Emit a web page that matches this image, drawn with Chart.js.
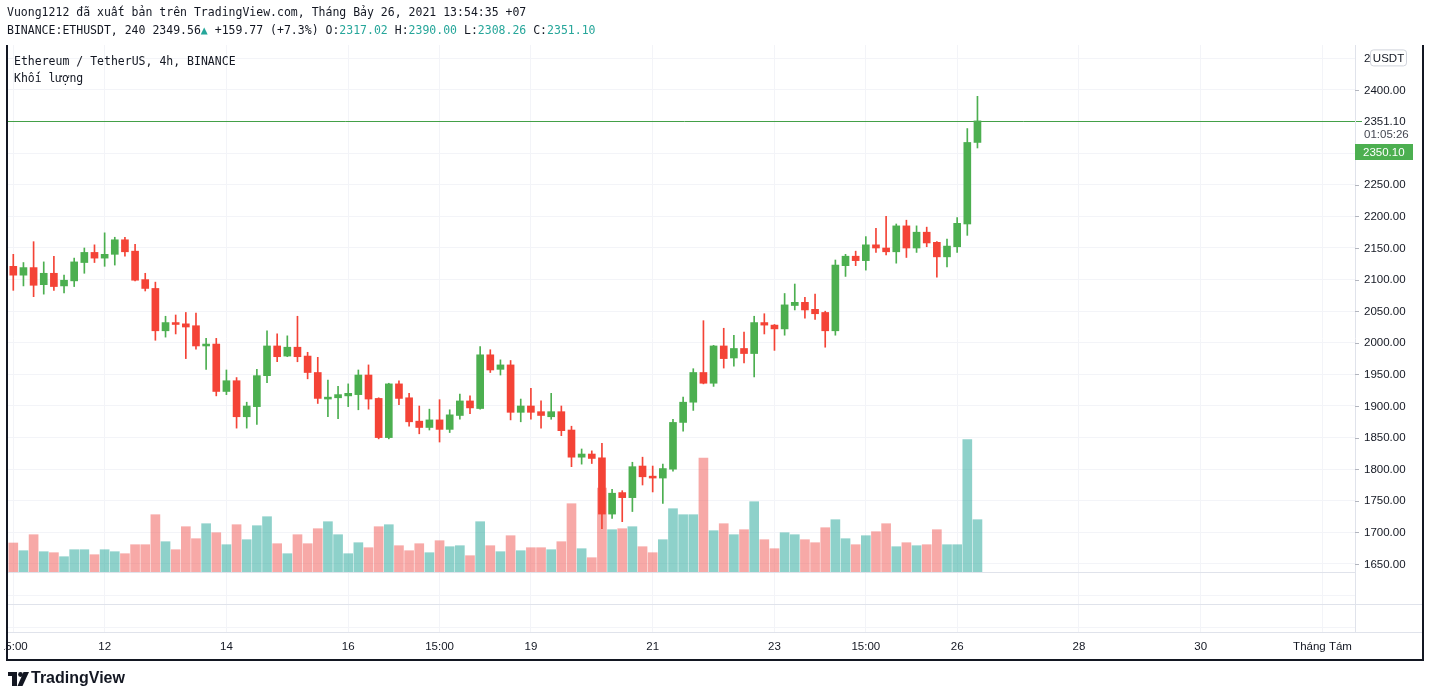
<!DOCTYPE html>
<html><head><meta charset="utf-8">
<script src="https://cdn.jsdelivr.net/npm/chart.js@4.4.0/dist/chart.umd.min.js"></script>
<style>html,body{margin:0;padding:0;background:#fff;overflow:hidden}canvas{display:block}</style>
</head><body>
<canvas id="c" width="1430" height="697"></canvas>
<script>
// ETH/USDT 4h candles, 10 Jul 15:00 -> 26 Jul 11:00 (UTC+7)
const opens  = [2121,2107,2119,2092,2110,2090,2098,2127,2143,2134,2140,2163,2145,2100,2086,2019,2032,2030,2027,1995,1998,1923,1940,1883,1899,1948,1995,1979,1993,1979,1953,1911,1913,1916,1918,1949,1912,1850,1935,1913,1876,1866,1878,1863,1885,1908,1896,1981,1958,1965,1890,1900,1891,1883,1891,1862,1819,1824,1818,1729,1763,1755,1805,1789,1786,1800,1874,1906,1953,1936,1995,1976,1991,1983,2032,2028,2022,2059,2064,2053,2048,2019,2122,2137,2130,2155,2150,2144,2185,2150,2175,2159,2136,2152,2188,2317.02];
const highs  = [2140,2127,2160,2128,2137,2107,2134,2150,2155,2174,2167,2167,2156,2110,2096,2042,2044,2048,2047,2007,2007,1957,1945,1906,1958,2019,2014,2011,2042,1985,1977,1941,1931,1935,1957,1965,1913,1936,1940,1920,1900,1895,1910,1894,1919,1916,1994,1989,1973,1972,1911,1928,1908,1920,1900,1868,1832,1829,1841,1768,1766,1811,1819,1805,1808,1879,1914,1959,2035,1996,2023,2012,2017,2042,2046,2029,2078,2093,2072,2077,2050,2131,2140,2145,2168,2181,2200,2188,2194,2185,2183,2160,2164,2198,2339,2390.00];
const lows   = [2083,2090,2073,2077,2083,2079,2089,2110,2127,2121,2123,2137,2098,2082,2004,2009,2014,1975,1990,1958,1916,1918,1865,1865,1871,1937,1970,1978,1970,1943,1904,1883,1880,1899,1894,1895,1848,1848,1902,1868,1856,1862,1843,1858,1879,1888,1895,1953,1949,1878,1875,1879,1865,1879,1853,1804,1808,1809,1706,1722,1717,1733,1775,1764,1746,1797,1860,1893,1935,1931,1960,1963,1968,1946,2014,1988,2012,2052,2039,2037,1993,2012,2105,2122,2115,2143,2139,2126,2135,2143,2152,2104,2120,2143,2170,2308.26];
const closes = [2107,2119,2091,2110,2089,2099,2128,2143,2134,2140,2163,2144,2099,2086,2019,2032,2029,2025,1995,1998,1923,1940,1883,1900,1948,1995,1978,1993,1978,1953,1912,1914,1918,1920,1949,1911,1850,1935,1912,1875,1866,1878,1863,1886,1908,1897,1981,1957,1965,1890,1900,1890,1885,1891,1861,1819,1824,1817,1729,1762,1755,1804,1788,1786,1801,1874,1906,1953,1936,1995,1975,1991,1983,2032,2028,2022,2060,2064,2052,2046,2019,2123,2137,2130,2155,2150,2144,2185,2150,2175,2158,2136,2153,2189,2317,2351.10];
const volumes = [29,21.3,37.3,20.3,19.3,15.3,22.3,22.3,17.3,22.3,20.3,18.3,27.3,27.3,57.3,30.3,22.3,45.3,33.3,48.3,39.3,27.3,47.3,32.3,46.3,55.3,28.3,18.3,37.3,28.3,43.3,50.3,37.3,18.3,29.3,24.3,45.3,47.3,26.3,21.3,28.3,19.3,31.3,25.3,26.3,16.3,50.3,26.3,20.3,36.3,21.3,24.3,24.3,22.3,30.3,68.3,23.3,14.3,84,42.3,43.3,45.3,25.3,19.3,32.3,63.3,57.3,57.3,114,41.3,48.3,37.3,42.3,70.3,32.3,23.3,39.3,37.3,32.3,29.3,44.3,52.3,33.3,27.3,36.3,40.3,48.3,25.3,29.3,26.3,27.3,42.3,27.3,27.3,132.3,52.3];
// time axis labels (candle index -> label)
const timeTickIdx = [0,9,21,33,42,51,63,75,84,93,105,117,129];
const timeTickLabels = ['15:00','12','14','16','15:00','19','21','23','15:00','26','28','30','Tháng Tám'];
// price axis labels
const priceTicks = [1550,1600,1650,1700,1750,1800,1850,1900,1950,2000,2050,2100,2150,2200,2250,2300,2350,2400,2450];
const priceLabels = [1650,1700,1750,1800,1850,1900,1950,2000,2050,2100,2150,2200,2250,2400];
const lastPrice = 2351.10;

const UP='#4caf50', DOWN='#f44336', VUP='rgba(38,166,154,0.52)', VDOWN='rgba(239,83,80,0.5)', TEAL='#26a69a', TXT='#131722';
const idx = opens.map((_,i)=>i);
const up = idx.map(i=>closes[i]>=opens[i]);

const overlay = {
  id:'overlay',
  beforeDatasetsDraw(chart){
    const ctx=chart.ctx, y=chart.scales.y, a=chart.chartArea;
    const py=Math.round(y.getPixelForValue(lastPrice))+0.5;
    ctx.save();ctx.strokeStyle='#43a047';ctx.lineWidth=1;ctx.beginPath();ctx.moveTo(a.left,py);ctx.lineTo(a.right+7,py);ctx.stroke();ctx.restore();
  },
  afterDraw(chart){
    const ctx=chart.ctx, x=chart.scales.x, y=chart.scales.y, a=chart.chartArea;
    ctx.save();
    // header
    ctx.textBaseline='middle';ctx.textAlign='left';
    ctx.font='11.5px "DejaVu Sans Mono"';
    ctx.fillStyle=TXT;
    ctx.fillText('Vuong1212 đã xuất bản trên TradingView.com, Tháng Bảy 26, 2021 13:54:35 +07',7,13);
    const segs=[['BINANCE:ETHUSDT, 240 2349.56',TXT],['▲',TEAL],[' +159.77 (+7.3%) O:',TXT],['2317.02',TEAL],[' H:',TXT],['2390.00',TEAL],[' L:',TXT],['2308.26',TEAL],[' C:',TXT],['2351.10',TEAL]];
    let cx=7;
    for(const [t,c] of segs){ctx.fillStyle=c;ctx.fillText(t,cx,31);cx+=ctx.measureText(t).width;}
    // legend
    ctx.fillStyle=TXT;
    ctx.fillText('Ethereum / TetherUS, 4h, BINANCE',14,62.5);
    ctx.fillText('Khối lượng',14,79.5);
    // separators
    ctx.strokeStyle='#e0e3eb';ctx.lineWidth=1;
    ctx.beginPath();ctx.moveTo(a.right+0.5,a.top);ctx.lineTo(a.right+0.5,a.bottom);ctx.stroke();
    ctx.beginPath();ctx.moveTo(7,a.bottom+0.5);ctx.lineTo(1423,a.bottom+0.5);ctx.stroke();
    ctx.beginPath();ctx.moveTo(7,604.5);ctx.lineTo(1423,604.5);ctx.stroke();
    ctx.beginPath();ctx.moveTo(7,572.5);ctx.lineTo(a.right,572.5);ctx.stroke();
    // price labels
    ctx.font='11.5px "Liberation Sans"';
    for(const p of priceLabels){
      const py=y.getPixelForValue(p);
      ctx.strokeStyle='#b2b5be';ctx.beginPath();ctx.moveTo(a.right,Math.round(py)+0.5);ctx.lineTo(a.right+4,Math.round(py)+0.5);ctx.stroke();
      ctx.fillStyle=TXT;ctx.fillText(p.toFixed(2),1364,py+0.5);
    }
    // top label partly hidden by currency badge
    const ty=y.getPixelForValue(2450);
    ctx.fillStyle=TXT;ctx.fillText('2450.00',1364,ty);
    ctx.fillStyle='#fff';ctx.strokeStyle='#d1d4dc';
    ctx.beginPath();ctx.roundRect(1370.5,ty-8.5,36,16,3);ctx.fill();ctx.stroke();
    ctx.fillStyle=TXT;ctx.textAlign='center';ctx.fillText('USDT',1388.5,ty);ctx.textAlign='left';
    // last price labels
    const lp=y.getPixelForValue(lastPrice);
    ctx.fillStyle=TXT;ctx.fillText(lastPrice.toFixed(2),1364,lp+1);
    ctx.fillStyle='#434651';ctx.fillText('01:05:26',1364,lp+14);
    ctx.fillStyle=UP;ctx.fillRect(1355,144,58,16);
    ctx.fillStyle='#fff';ctx.fillText('2350.10',1363,152.5);
    // time labels
    ctx.save();ctx.beginPath();ctx.rect(4,a.bottom,1420,30);ctx.clip();
    ctx.fillStyle=TXT;ctx.textAlign='center';
    timeTickIdx.forEach((v,i)=>{ctx.fillText(timeTickLabels[i],x.getPixelForValue(v),647);});
    ctx.restore();
    // frame
    ctx.strokeStyle='#131722';ctx.lineWidth=2;
    ctx.beginPath();ctx.moveTo(7,45);ctx.lineTo(7,660);ctx.lineTo(1423,660);ctx.lineTo(1423,45);ctx.stroke();
    // logo
    ctx.fillStyle='#131722';
    ctx.fillRect(8,672,9,4);ctx.fillRect(12,672,5,14);
    ctx.beginPath();ctx.arc(20.5,674.5,2.4,0,Math.PI*2);ctx.fill();
    ctx.beginPath();ctx.moveTo(23.5,672);ctx.lineTo(29,672);ctx.lineTo(22.5,686);ctx.lineTo(17.5,686);ctx.closePath();ctx.fill();
    ctx.font='bold 16px "Liberation Sans"';ctx.textAlign='left';
    ctx.fillText('TradingView',31,679);
    ctx.restore();
  }
};

new Chart(document.getElementById('c'),{
  type:'bar',
  data:{datasets:[
    {label:'Khối lượng',data:idx.map(i=>({x:i,y:volumes[i]})),backgroundColor:idx.map(i=>up[i]?VUP:VDOWN),barThickness:9,grouped:false,order:3,yAxisID:'yv'},
    {label:'wick',data:idx.map(i=>({x:i,y:[lows[i],highs[i]]})),backgroundColor:idx.map(i=>up[i]?UP:DOWN),barThickness:1,grouped:false,order:2,yAxisID:'y'},
    {label:'ETHUSDT',data:idx.map(i=>({x:i,y:[opens[i],closes[i]]})),backgroundColor:idx.map(i=>up[i]?UP:DOWN),barThickness:7,grouped:false,order:1,yAxisID:'y'}
  ]},
  options:{
    responsive:false,animation:false,devicePixelRatio:1,
    layout:{padding:{left:7,right:75,top:45,bottom:65}},
    plugins:{legend:{display:false},tooltip:{enabled:false}},
    scales:{
      x:{type:'linear',min:-0.62,max:132.2,offset:false,
         grid:{color:'#f3f4f8',drawTicks:false,offset:false},border:{display:false},ticks:{display:false},
         afterBuildTicks:s=>{s.ticks=timeTickIdx.map(v=>({value:v}));},afterFit:s=>{s.height=0;}},
      y:{position:'right',min:1542.4,max:2471.2,
         grid:{color:'#f3f4f8',drawTicks:false},border:{display:false},ticks:{display:false},
         afterBuildTicks:s=>{s.ticks=priceTicks.map(v=>({value:v}));},afterFit:s=>{s.width=0;}},
      yv:{display:false,min:-60,max:527}
    }
  },
  plugins:[overlay]
});
</script>
</body></html>
